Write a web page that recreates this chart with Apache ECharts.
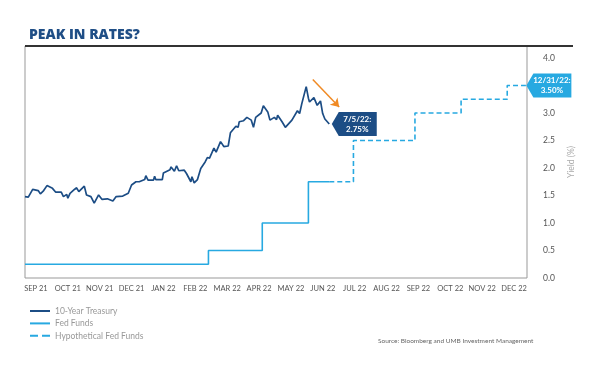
<!DOCTYPE html>
<html><head><meta charset="utf-8">
<script src="https://cdn.jsdelivr.net/npm/echarts@6/dist/echarts.min.js"></script>
<style>html,body{margin:0;padding:0;background:#fff}#c{width:600px;height:367px}</style>
</head><body><div id="c"></div>
<script>
const monthLabels = ['SEP 21','OCT 21','NOV 21','DEC 21','JAN 22','FEB 22','MAR 22','APR 22','MAY 22','JUN 22','JUL 22','AUG 22','SEP 22','OCT 22','NOV 22','DEC 22'];
const yTicks = [0,0.5,1,1.5,2,2.5,3,3.5,4];
const treasuryDates = ['2021-10-01','2021-10-04','2021-10-08','2021-10-13','2021-10-15','2021-10-18','2021-10-21','2021-10-26','2021-10-29','2021-11-03','2021-11-05','2021-11-08','2021-11-09','2021-11-11','2021-11-15','2021-11-17','2021-11-19','2021-11-24','2021-11-26','2021-11-30','2021-12-03','2021-12-07','2021-12-10','2021-12-15','2021-12-20','2021-12-23','2021-12-29','2022-01-03','2022-01-06','2022-01-10','2022-01-13','2022-01-14','2022-01-18','2022-01-19','2022-01-21','2022-01-26','2022-01-27','2022-01-28','2022-02-03','2022-02-04','2022-02-10','2022-02-11','2022-02-14','2022-02-16','2022-02-18','2022-02-23','2022-02-25','2022-03-01','2022-03-02','2022-03-04','2022-03-07','2022-03-10','2022-03-14','2022-03-16','2022-03-18','2022-03-22','2022-03-24','2022-03-28','2022-03-31','2022-04-04','2022-04-06','2022-04-11','2022-04-13','2022-04-14','2022-04-18','2022-04-21','2022-04-25','2022-04-27','2022-04-29','2022-05-04','2022-05-06','2022-05-10','2022-05-12','2022-05-16','2022-05-18','2022-05-19','2022-05-23','2022-05-26','2022-05-27','2022-06-01','2022-06-06','2022-06-08','2022-06-10','2022-06-14','2022-06-16','2022-06-17','2022-06-21','2022-06-24','2022-06-27','2022-06-29','2022-07-01','2022-07-05'];
const treasuryValues = [1.48,1.47,1.61,1.59,1.53,1.59,1.68,1.63,1.56,1.56,1.48,1.52,1.45,1.54,1.61,1.64,1.57,1.67,1.51,1.48,1.36,1.51,1.43,1.44,1.40,1.48,1.49,1.54,1.69,1.75,1.75,1.72,1.79,1.86,1.78,1.78,1.85,1.79,1.79,1.91,1.97,2.02,1.94,2.04,1.95,1.96,1.90,1.75,1.84,1.73,1.79,1.99,2.11,2.19,2.18,2.36,2.29,2.48,2.39,2.40,2.64,2.76,2.74,2.84,2.86,2.92,2.87,2.74,2.92,3.00,3.13,3.02,2.87,2.92,2.88,2.96,2.84,2.74,2.76,2.87,3.04,2.99,3.17,3.48,3.27,3.20,3.28,3.14,3.22,2.99,2.89,2.80];
const fedDates = ['2021-10-01','2022-03-17','2022-05-05','2022-06-16','2022-07-05'];
const fedValues = [0.25,0.50,1.00,1.75,1.75];
const hypoDates = ['2022-07-05','2022-07-27','2022-09-21','2022-11-02','2022-12-14','2022-12-31'];
const hypoValues = [1.75,2.50,3.00,3.25,3.50,3.50];
const arrowFrom = ['2022-06-20', 3.61];
const arrowTo = ['2022-07-14', 3.11];
const treasuryNote = '7/5/22:\n2.75%';
const hypoNote = '12/31/22:\n3.50%';

const DARK = '#1c4d85', LIGHT = '#27a9e1';
const zip = (a, b) => a.map((d, i) => [d, b[i]]);
const tag = 'path://M0,12 L7,0 L45,0 L45,24 L7,24 Z';
const last = (a) => a[a.length - 1];

const chart = echarts.init(document.getElementById('c'));
chart.setOption({
  animation: false,
  textStyle: { fontFamily: 'Lato' },
  title: [
    { text: 'PEAK IN RATES?', left: 24, top: 23, textStyle: { fontFamily: 'Open Sans', fontWeight: 800, fontSize: 14, color: '#1f4e86' } },
    { text: 'Source: Bloomberg and UMB Investment Management', left: 373, top: 332, textStyle: { fontFamily: 'Lato', fontWeight: 'normal', fontSize: 6.5, color: '#666' } }
  ],
  grid: [
    { left: 25, top: 46, width: 502, height: 232, show: true, borderColor: '#999', borderWidth: 1, containLabel: false },
    { left: 20, top: 46, width: 510, height: 232, show: false }
  ],
  xAxis: [
    { type: 'time', gridIndex: 0, min: '2021-10-01', max: '2023-01-01', axisLine: { show: false }, axisTick: { show: false }, axisLabel: { show: false }, splitLine: { show: false } },
    { type: 'category', gridIndex: 1, data: monthLabels, boundaryGap: true, axisLine: { show: false }, axisTick: { show: false }, splitLine: { show: false },
      axisLabel: { interval: 0, margin: 7, fontSize: 7.5, color: '#555', fontFamily: 'Lato' } }
  ],
  yAxis: [
    { type: 'value', gridIndex: 0, position: 'right', min: 0, max: 232 / 55, interval: 0.5,
      axisLine: { show: false }, axisTick: { show: false }, splitLine: { show: false },
      axisLabel: { margin: 16, fontSize: 8.5, color: '#555', fontFamily: 'Lato', padding: [0, 0, 4, 0],
        formatter: (v) => yTicks.some(t => Math.abs(t - v) < 1e-6) ? v.toFixed(1) : '' },
      name: 'Yield (%)', nameLocation: 'middle', nameRotate: 90, nameGap: 40,
      nameTextStyle: { color: '#aaa', fontSize: 8.5, fontFamily: 'Lato' } },
    { type: 'value', gridIndex: 1, show: false }
  ],
  legend: {
    orient: 'vertical', left: 24, top: 301, itemWidth: 20, itemHeight: 2, itemGap: 2.4,
    itemStyle: { opacity: 0 },
    textStyle: { fontSize: 8.5, color: '#999', fontFamily: 'Lato', lineHeight: 10 },
    data: [
      { name: '10-Year Treasury' },
      { name: 'Fed Funds' },
      { name: 'Hypothetical Fed Funds', lineStyle: { type: [8, 4] } }
    ]
  },
  series: [
    { name: '10-Year Treasury', type: 'line', xAxisIndex: 0, yAxisIndex: 0, data: zip(treasuryDates, treasuryValues),
      showSymbol: false, symbol: 'none', color: DARK, lineStyle: { width: 1.7, color: DARK },
      markPoint: { silent: true, symbol: tag, symbolSize: [45, 24], symbolOffset: [25, 0], itemStyle: { color: DARK, opacity: 1 },
        label: { show: true, position: 'inside', offset: [3, 0], formatter: treasuryNote, color: '#fff', fontSize: 8, fontWeight: 'bold', lineHeight: 10, fontFamily: 'Lato' },
        data: [{ coord: [last(treasuryDates), last(treasuryValues)] }] },
      markLine: { silent: true, symbol: ['none', 'arrow'], symbolSize: 8, lineStyle: { color: '#f08a24', width: 1.5, type: 'solid' }, label: { show: false },
        data: [[{ coord: arrowFrom }, { coord: arrowTo }]] } },
    { name: 'Fed Funds', type: 'line', xAxisIndex: 0, yAxisIndex: 0, step: 'end', data: zip(fedDates, fedValues),
      showSymbol: false, symbol: 'none', color: LIGHT, lineStyle: { width: 1.6, color: LIGHT } },
    { name: 'Hypothetical Fed Funds', type: 'line', xAxisIndex: 0, yAxisIndex: 0, step: 'end', data: zip(hypoDates, hypoValues),
      showSymbol: false, symbol: 'none', color: LIGHT, lineStyle: { width: 1.6, color: LIGHT, type: [5, 3] },
      markPoint: { silent: true, symbol: tag, symbolSize: [45, 24], symbolOffset: [23, 0], itemStyle: { color: LIGHT, opacity: 1 },
        label: { show: true, position: 'inside', offset: [3, 0], formatter: hypoNote, color: '#fff', fontSize: 8, fontWeight: 'bold', lineHeight: 10, fontFamily: 'Lato' },
        data: [{ coord: [last(hypoDates), last(hypoValues)] }] } }
  ],
  graphic: [
    { type: 'line', shape: { x1: 25, y1: 46, x2: 573, y2: 46 }, style: { stroke: '#333', lineWidth: 2 }, z: 10 }
  ]
});
</script></body></html>
